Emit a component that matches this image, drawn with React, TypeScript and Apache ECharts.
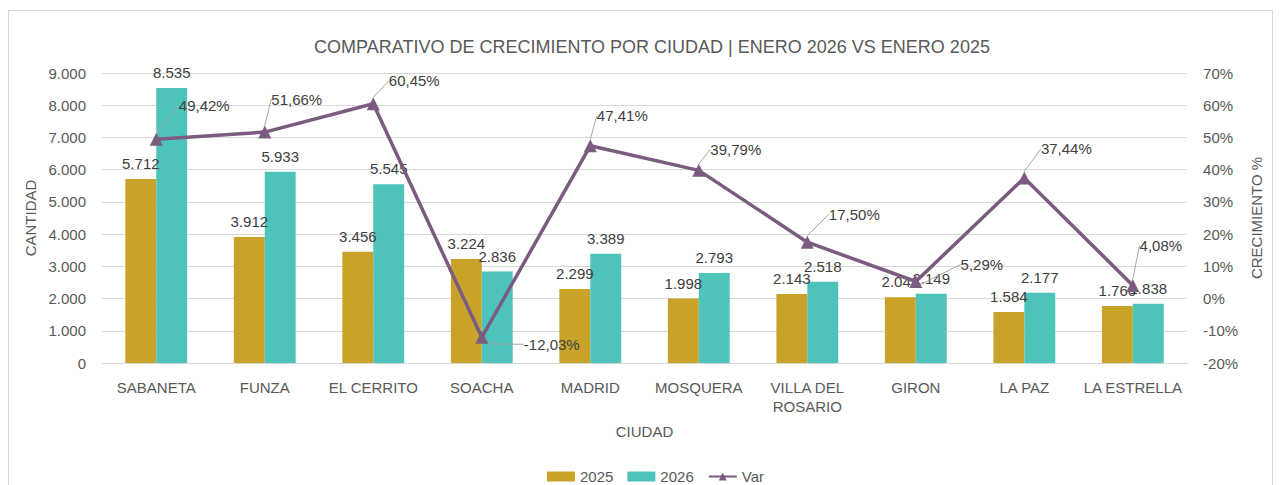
import React, { useEffect, useRef } from "react";
import * as echarts from "echarts";

const cities = ["SABANETA", "FUNZA", "EL CERRITO", "SOACHA", "MADRID", "MOSQUERA", "VILLA DEL\nROSARIO", "GIRON", "LA PAZ", "LA ESTRELLA"];
const values2025 = [5712, 3912, 3456, 3224, 2299, 1998, 2143, 2041, 1584, 1766];
const values2026 = [8535, 5933, 5545, 2836, 3389, 2793, 2518, 2149, 2177, 1838];
const varPct = [49.42, 51.66, 60.45, -12.03, 47.41, 39.79, 17.5, 5.29, 37.44, 4.08];
const leftTicks = { min: 0, max: 9000, interval: 1000 };
const rightTicks = { min: -20, max: 70, interval: 10 };

// label offsets (px) of the Var labels relative to their point
const varLabelOffsets: [number, number][] = [
  [48, -34], [32, -33], [41, -23], [70, 7], [32, -30],
  [37, -21], [47, -28], [66, -17], [42, -29], [28, -40],
];

const FONT = "'Liberation Sans', Arial, sans-serif";
const GOLD = "#C9A22A";
const TEAL = "#4EC3BA";
const PURPLE = "#7B5B7F";
const TXT = "#595959";
const LBL = "#404040";
const FS = 15;

const fmtThousands = (v: number) => String(v).replace(/\B(?=(\d{3})+(?!\d))/g, ".");

export default function App() {
  const ref = useRef<HTMLDivElement>(null);
  useEffect(() => {
    if (!ref.current) return;
    const chart = echarts.init(ref.current, undefined, { renderer: "svg" });
    chart.setOption({
      animation: false,
      textStyle: { fontFamily: FONT },
      title: {
        text: "COMPARATIVO DE CRECIMIENTO POR CIUDAD | ENERO 2026 VS ENERO 2025",
        left: 638,
        textAlign: "center",
        top: 22,
        textStyle: { fontFamily: FONT, fontSize: 18, fontWeight: "normal", color: TXT },
      },
      legend: {
        bottom: 2,
        left: 533,
        itemWidth: 28,
        itemHeight: 10,
        itemGap: 14,
        textStyle: { fontFamily: FONT, fontSize: FS, color: TXT },
        data: [
          { name: "2025", icon: "rect" },
          { name: "2026", icon: "rect" },
          { name: "Var" },
        ],
      },
      grid: { left: 93, right: 79, top: 62, bottom: 128 },
      xAxis: {
        type: "category",
        data: cities,
        name: "CIUDAD",
        nameLocation: "middle",
        nameGap: 61,
        nameTextStyle: { fontFamily: FONT, fontSize: FS, color: TXT },
        axisLine: { lineStyle: { color: "#d9d9d9", width: 1 } },
        axisTick: { show: false },
        axisLabel: { fontFamily: FONT, fontSize: FS, color: TXT, margin: 15, interval: 0, lineHeight: 19 },
      },
      yAxis: [
        {
          type: "value",
          min: leftTicks.min,
          max: leftTicks.max,
          interval: leftTicks.interval,
          name: "CANTIDAD",
          nameLocation: "middle",
          nameGap: 64,
          nameTextStyle: { fontFamily: FONT, fontSize: FS, color: TXT },
          axisLine: { show: false },
          axisTick: { show: false },
          splitLine: { lineStyle: { color: "#d9d9d9", width: 1 } },
          axisLabel: { fontFamily: FONT, fontSize: FS, color: TXT, margin: 16, formatter: (v: number) => fmtThousands(v) },
        },
        {
          type: "value",
          min: rightTicks.min,
          max: rightTicks.max,
          interval: rightTicks.interval,
          name: "CRECIMIENTO %",
          nameLocation: "middle",
          nameGap: 57,
          nameTextStyle: { fontFamily: FONT, fontSize: FS, color: TXT },
          axisLine: { show: false },
          axisTick: { show: false },
          splitLine: { show: false },
          axisLabel: { fontFamily: FONT, fontSize: FS, color: TXT, margin: 16, formatter: (v: number) => v + "%" },
        },
      ],
      series: [
        {
          name: "2025",
          type: "bar",
          data: values2025,
          itemStyle: { color: GOLD },
          barGap: "0%",
          barCategoryGap: "43%",
          label: {
            show: true,
            position: "top",
            distance: 8,
            fontFamily: FONT,
            fontSize: FS,
            color: LBL,
            formatter: (p: any) => fmtThousands(p.value),
          },
        },
        {
          name: "2026",
          type: "bar",
          data: values2026,
          itemStyle: { color: TEAL },
          barGap: "0%",
          barCategoryGap: "43%",
          label: {
            show: true,
            position: "top",
            distance: 8,
            fontFamily: FONT,
            fontSize: FS,
            color: LBL,
            formatter: (p: any) => fmtThousands(p.value),
          },
        },
        {
          name: "Var",
          type: "line",
          yAxisIndex: 1,
          data: varPct,
          symbol: "triangle",
          symbolSize: 13,
          lineStyle: { color: PURPLE, width: 3.5 },
          itemStyle: { color: PURPLE },
          z: 5,
          label: {
            show: true,
            position: "inside",
            fontFamily: FONT,
            fontSize: FS,
            color: LBL,
            formatter: (p: any) => p.value.toFixed(2).replace(".", ",") + "%",
          },
          labelLine: { show: true, lineStyle: { color: "#a6a6a6", width: 1 } },
          labelLayout: (params: any) => {
            const o = varLabelOffsets[params.dataIndex] || [0, 0];
            return { dx: o[0], dy: o[1] };
          },
        },
      ],
    });
    return () => chart.dispose();
  }, []);
  return (
    <div style={{ width: 1265, marginTop: 2, border: "1px solid #d9d9d9", boxSizing: "border-box", background: "#fff" }}>
      <div ref={ref} style={{ width: 1263, height: 480 }} />
    </div>
  );
}
